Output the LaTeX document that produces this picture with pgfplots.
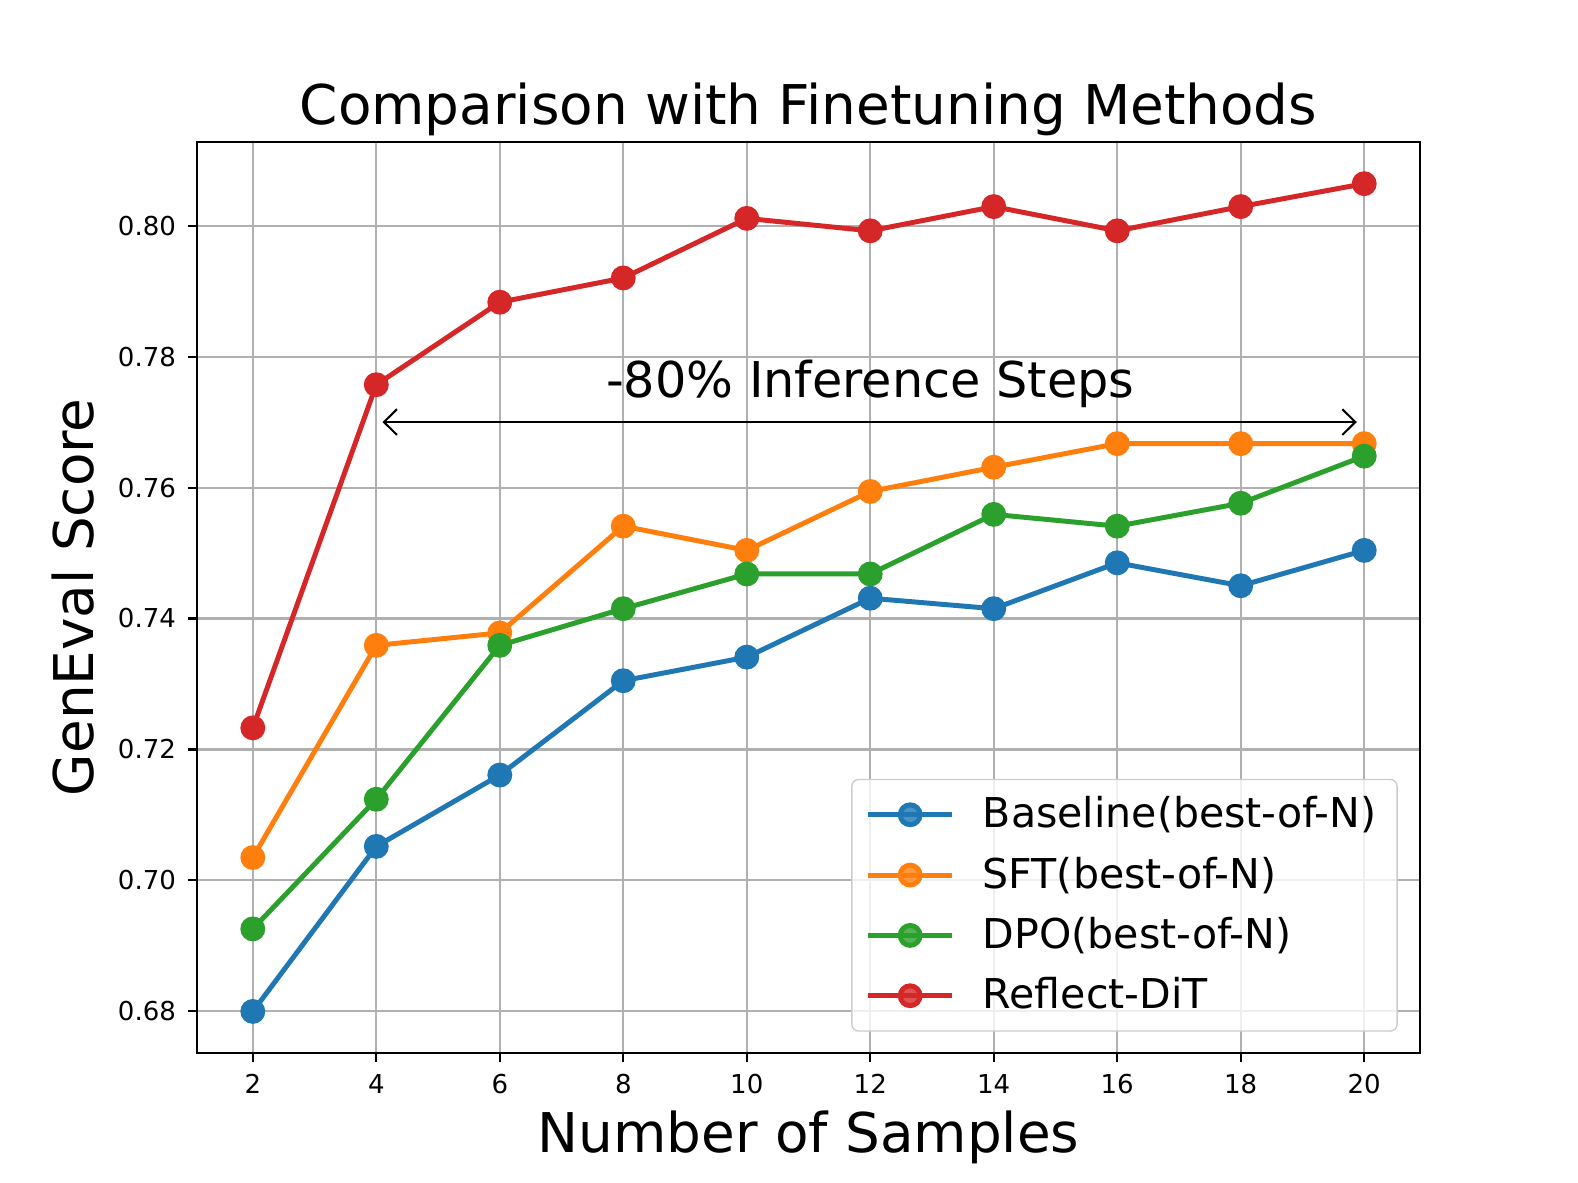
\documentclass[border=0pt]{standalone}
\usepackage{fontspec}
\setmainfont{DejaVu Sans}
\usepackage{pgfplots}
\pgfplotsset{compat=1.18}
\usetikzlibrary{arrows.meta}

\definecolor{tabblue}{HTML}{1F77B4}
\definecolor{taborange}{HTML}{FF7F0E}
\definecolor{tabgreen}{HTML}{2CA02C}
\definecolor{tabred}{HTML}{D62728}

\begin{document}
\begin{tikzpicture}
  \begin{axis}[
    scale only axis,
    width=357pt,
    height=266pt,
    xmin=1.1, xmax=20.9,
    ymin=0.6737, ymax=0.8128,
    xtick={2,4,...,20},
    ytick={0.68,0.70,...,0.801},
    yticklabel style={/pgf/number format/.cd, fixed, fixed zerofill, precision=2},
    /pgf/number format/assume math mode=true,
    ticklabel style={font=\fontsize{7.6}{9}\selectfont},
    tick align=outside,
    major tick length=2.7pt,
    tick style={black, line width=0.6pt},
    xtick pos=bottom, ytick pos=left,
    axis line style={line width=0.6pt},
    grid=major,
    grid style={color=black!31, line width=0.6pt},
    title={Comparison with Finetuning Methods},
    title style={font=\fontsize{16}{19}\selectfont, yshift=-7.9pt},
    xlabel={Number of Samples},
    ylabel={GenEval Score},
    label style={font=\fontsize{16}{19}\selectfont},
    xlabel style={yshift=2pt},
    every axis plot/.append style={line width=1.45pt, mark=*, mark size=2.9pt},
    legend style={
      at={(0.982,0.023)}, anchor=south east,
      font=\fontsize{12}{14}\selectfont,
      draw=black!20, rounded corners=2pt,
      fill=white, fill opacity=0.8, text opacity=1,
      inner xsep=4pt, inner ysep=3pt, row sep=3pt,
    },
    legend cell align=left,
    legend image code/.code={
      \draw[mark repeat=2, mark phase=2] plot coordinates {(0pt,0pt) (12.3pt,0pt) (24.6pt,0pt)};
      \path (30.8pt,0pt);
    },
  ]
    \addplot[color=tabblue, mark options={fill=tabblue}] coordinates {
      (2,0.6800) (4,0.7052) (6,0.7161) (8,0.7305) (10,0.7341)
      (12,0.7431) (14,0.7415) (16,0.7485) (18,0.7450) (20,0.7504)};
    \addlegendentry{Baseline(best-of-N)}
    \addplot[color=taborange, mark options={fill=taborange}] coordinates {
      (2,0.7035) (4,0.7359) (6,0.7378) (8,0.7541) (10,0.7504)
      (12,0.7594) (14,0.7631) (16,0.7667) (18,0.7667) (20,0.7667)};
    \addlegendentry{SFT(best-of-N)}
    \addplot[color=tabgreen, mark options={fill=tabgreen}] coordinates {
      (2,0.6926) (4,0.7124) (6,0.7359) (8,0.7415) (10,0.7468)
      (12,0.7468) (14,0.7559) (16,0.7541) (18,0.7576) (20,0.7648)};
    \addlegendentry{DPO(best-of-N)}
    \addplot[color=tabred, mark options={fill=tabred}] coordinates {
      (2,0.7233) (4,0.7757) (6,0.7883) (8,0.7920) (10,0.8011)
      (12,0.7992) (14,0.8029) (16,0.7992) (18,0.8029) (20,0.8064)};
    \addlegendentry{Reflect-DiT}

    \draw[{Straight Barb[length=3.8pt,width=7.5pt]}-{Straight Barb[length=3.8pt,width=7.5pt]}, line width=0.6pt]
      (axis cs:4.1,0.7700) -- (axis cs:19.88,0.7700);
    \node[anchor=base, font=\fontsize{14.4}{17}\selectfont] at (axis cs:12,0.7738) {-80\% Inference Steps};
  \end{axis}
  \pgfresetboundingbox
  \useasboundingbox ([shift={(-57.6pt,-38.05pt)}]current axis.south west)
    rectangle ([shift={(46.2pt,41.4pt)}]current axis.north east);
\end{tikzpicture}
\end{document}
